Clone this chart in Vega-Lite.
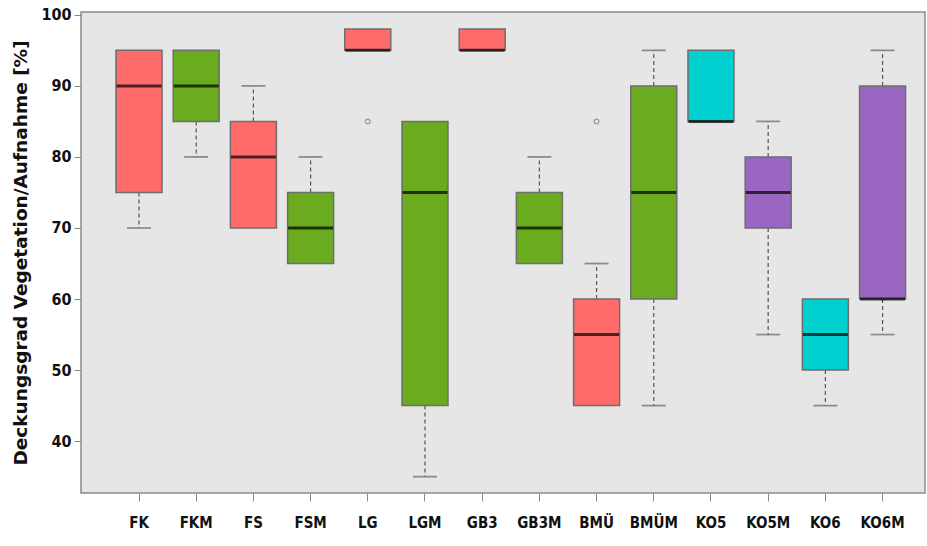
{
  "$schema": "https://vega.github.io/schema/vega-lite/v6.json",
  "width": 844,
  "height": 481,
  "autosize": {"type": "none"},
  "padding": {"left": 81, "top": 12, "right": 2, "bottom": 53},
  "background": "white",
  "config": {
    "view": {"fill": "#E6E6E6", "stroke": "#8C8C8C", "strokeWidth": 1.5},
    "font": "DejaVu Sans Condensed, Liberation Sans, sans-serif"
  },
  "datasets": {
    "boxes": [
      {"cat": "FK", "grp": "r", "q1": 75, "med": 90, "q3": 95},
      {"cat": "FKM", "grp": "g", "q1": 85, "med": 90, "q3": 95},
      {"cat": "FS", "grp": "r", "q1": 70, "med": 80, "q3": 85},
      {"cat": "FSM", "grp": "g", "q1": 65, "med": 70, "q3": 75},
      {"cat": "LG", "grp": "r", "q1": 95, "med": 95, "q3": 98},
      {"cat": "LGM", "grp": "g", "q1": 45, "med": 75, "q3": 85},
      {"cat": "GB3", "grp": "r", "q1": 95, "med": 95, "q3": 98},
      {"cat": "GB3M", "grp": "g", "q1": 65, "med": 70, "q3": 75},
      {"cat": "BMÜ", "grp": "r", "q1": 45, "med": 55, "q3": 60},
      {"cat": "BMÜM", "grp": "g", "q1": 60, "med": 75, "q3": 90},
      {"cat": "KO5", "grp": "c", "q1": 85, "med": 85, "q3": 95},
      {"cat": "KO5M", "grp": "p", "q1": 70, "med": 75, "q3": 80},
      {"cat": "KO6", "grp": "c", "q1": 50, "med": 55, "q3": 60},
      {"cat": "KO6M", "grp": "p", "q1": 60, "med": 60, "q3": 90}
    ],
    "whiskers": [
      {"cat": "FK", "from": 75, "to": 70},
      {"cat": "FKM", "from": 85, "to": 80},
      {"cat": "FS", "from": 85, "to": 90},
      {"cat": "FSM", "from": 75, "to": 80},
      {"cat": "LGM", "from": 45, "to": 35},
      {"cat": "GB3M", "from": 75, "to": 80},
      {"cat": "BMÜ", "from": 60, "to": 65},
      {"cat": "BMÜM", "from": 60, "to": 45},
      {"cat": "BMÜM", "from": 90, "to": 95},
      {"cat": "KO5M", "from": 70, "to": 55},
      {"cat": "KO5M", "from": 80, "to": 85},
      {"cat": "KO6", "from": 50, "to": 45},
      {"cat": "KO6M", "from": 60, "to": 55},
      {"cat": "KO6M", "from": 90, "to": 95}
    ],
    "outliers": [
      {"cat": "LG", "val": 85},
      {"cat": "BMÜ", "val": 85}
    ]
  },
  "encoding": {
    "x": {
      "field": "cat",
      "type": "nominal",
      "sort": ["FK", "FKM", "FS", "FSM", "LG", "LGM", "GB3", "GB3M", "BMÜ", "BMÜM", "KO5", "KO5M", "KO6", "KO6M"],
      "scale": {"paddingInner": 0, "paddingOuter": 0.378, "align": 0.68},
      "axis": {
        "title": null,
        "labelAngle": 0,
        "labelFont": "DejaVu Sans Condensed, Liberation Sans, sans-serif",
        "labelFontWeight": "bold",
        "labelFontSize": 15,
        "labelColor": "#111",
        "labelPadding": 14,
        "tickColor": "#888",
        "tickSize": 8,
        "domain": false
      }
    }
  },
  "layer": [
    {
      "data": {"name": "whiskers"},
      "mark": {"type": "rule", "strokeDash": [4, 3], "color": "#555", "strokeWidth": 1.2},
      "encoding": {
        "y": {"field": "from", "type": "quantitative", "scale": {"domain": [32.7, 100.4], "nice": false, "zero": false},
          "axis": {
            "title": "Deckungsgrad Vegetation/Aufnahme [%]",
            "values": [40, 50, 60, 70, 80, 90, 100],
            "grid": false,
            "domain": false,
            "tickColor": "#888",
            "tickSize": 7,
            "labelFont": "DejaVu Sans Condensed, Liberation Sans, sans-serif",
            "labelFontWeight": "bold",
            "labelFontSize": 16,
            "labelColor": "#111",
            "labelPadding": 3,
            "titleFont": "DejaVu Sans",
            "titleFontWeight": "bold",
            "titleFontSize": 18.5,
            "titleColor": "#111",
            "titlePadding": 10
          }
        },
        "y2": {"field": "to"}
      }
    },
    {
      "data": {"name": "whiskers"},
      "mark": {"type": "tick", "color": "#666", "thickness": 1.8, "size": 24},
      "encoding": {"y": {"field": "to", "type": "quantitative"}}
    },
    {
      "data": {"name": "boxes"},
      "mark": {"type": "bar", "size": 46, "stroke": "#6E6E6E", "strokeWidth": 1.5},
      "encoding": {
        "y": {"field": "q1", "type": "quantitative"},
        "y2": {"field": "q3"},
        "color": {
          "field": "grp",
          "type": "nominal",
          "scale": {"domain": ["r", "g", "c", "p"], "range": ["#FF6B6B", "#6AAB1F", "#00CFCF", "#9966C2"]},
          "legend": null
        },
        "opacity": {"value": 1}
      }
    },
    {
      "data": {"name": "boxes"},
      "mark": {"type": "tick", "color": "#000", "thickness": 3, "size": 45},
      "encoding": {"y": {"field": "med", "type": "quantitative"}}
    },
    {
      "data": {"name": "outliers"},
      "mark": {"type": "point", "shape": "circle", "size": 22, "filled": false, "stroke": "#777", "strokeWidth": 1.2},
      "encoding": {"y": {"field": "val", "type": "quantitative"}}
    }
  ]
}
